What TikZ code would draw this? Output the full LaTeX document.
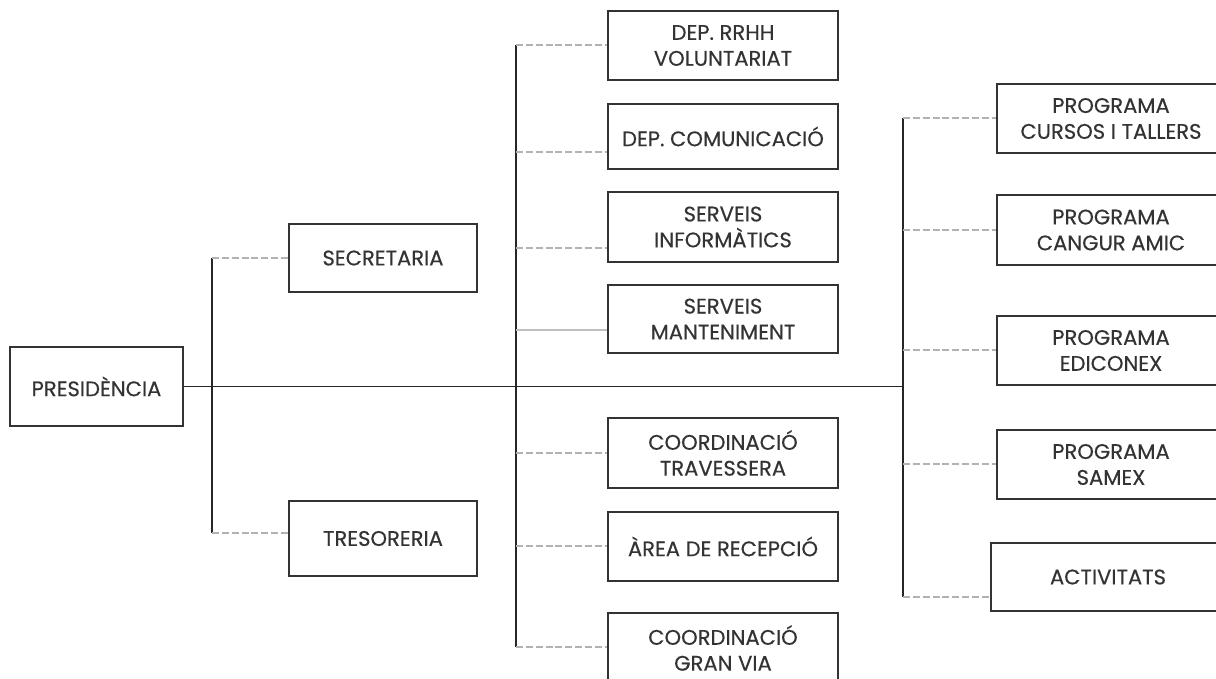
\documentclass[tikz,border=0pt]{standalone}
\usepackage{fontspec}
\setmainfont{Poppins}
\newfontfamily\unitfont{Poppins}[FakeBold=0.35]
\usetikzlibrary{calc}

\tikzset{
  unit/.style={draw=black!80, line width=1.1pt, align=center, inner sep=2pt,
    font=\unitfont\fontsize{15}{18.4}\selectfont, text=black!80},
  trunk/.style={draw=black!85, line width=1.4pt},
  dashlink/.style={draw=black!30, line width=1pt, dash pattern=on 5pt off 2pt},
  solidlink/.style={draw=black!25, line width=1pt},
}

\begin{document}
\begin{tikzpicture}[x=0.025cm, y=-0.025cm]
   \clip (0,0) rectangle (1216,678);
   \fill[white] (0,0) rectangle (1216,678);
   % left part
   \node[unit, minimum width=173*0.025cm, minimum height=79*0.025cm] (pres) at (96.5,386.5) {PRESIDÈNCIA};
   \node[unit, minimum width=188*0.025cm, minimum height=68*0.025cm] (sec) at (383,258) {SECRETARIA};
   \node[unit, minimum width=188*0.025cm, minimum height=75*0.025cm] (tre) at (383,538.5) {TRESORERIA};
   % middle column
   \node[unit, minimum width=230*0.025cm, minimum height=69*0.025cm] (rrhh) at (723,45.5) {DEP. RRHH\\VOLUNTARIAT};
   \node[unit, minimum width=230*0.025cm, minimum height=65*0.025cm] (com) at (723,136.5) {DEP. COMUNICACIÓ};
   \node[unit, minimum width=230*0.025cm, minimum height=70*0.025cm] (inf) at (723,227) {SERVEIS\\INFORMÀTICS};
   \node[unit, minimum width=230*0.025cm, minimum height=68*0.025cm] (mant) at (723,319) {SERVEIS\\MANTENIMENT};
   \node[unit, minimum width=230*0.025cm, minimum height=70*0.025cm] (trav) at (723,453) {COORDINACIÓ\\TRAVESSERA};
   \node[unit, minimum width=230*0.025cm, minimum height=69*0.025cm] (rec) at (723,546.5) {ÀREA DE RECEPCIÓ};
   \node[unit, minimum width=230*0.025cm, minimum height=70*0.025cm] (gran) at (723,648) {COORDINACIÓ\\GRAN VIA};
   % right column
   \node[unit, minimum width=228*0.025cm, minimum height=69*0.025cm] (curs) at (1111,118.5) {PROGRAMA\\CURSOS I TALLERS};
   \node[unit, minimum width=228*0.025cm, minimum height=70*0.025cm] (cang) at (1111,230) {PROGRAMA\\CANGUR AMIC};
   \node[unit, minimum width=228*0.025cm, minimum height=69*0.025cm] (edic) at (1111,350.5) {PROGRAMA\\EDICONEX};
   \node[unit, minimum width=228*0.025cm, minimum height=69*0.025cm] (samx) at (1111,464.5) {PROGRAMA\\SAMEX};
   \node[unit, minimum width=234*0.025cm, minimum height=68*0.025cm] (activ) at (1108,577) {ACTIVITATS};

   % trunk points
   \coordinate (lsec) at (212,258);
   \coordinate (ltre) at (212,533);
   \coordinate (mtop) at (516,45);
   \coordinate (mcom) at (516,152);
   \coordinate (minf) at (516,248);
   \coordinate (mmant) at (516,330);
   \coordinate (mtrav) at (516,453);
   \coordinate (mrec) at (516,546);
   \coordinate (mbot) at (516,647);
   \coordinate (rtop) at (903,118);
   \coordinate (rcang) at (903,230);
   \coordinate (redic) at (903,350);
   \coordinate (rsamx) at (903,464);
   \coordinate (rbot) at (903,597);

   \draw[trunk] (pres.east) -- (pres.east -| rtop);
   \draw[trunk] (lsec) -- (ltre);
   \draw[trunk] (mtop) -- (mbot);
   \draw[trunk] (rtop) -- (rbot);

   \draw[dashlink] (lsec) -- (sec.west |- lsec);
   \draw[dashlink] (ltre) -- (tre.west |- ltre);
   \draw[dashlink] (mtop) -- (rrhh.west |- mtop);
   \draw[dashlink] (mcom) -- (com.west |- mcom);
   \draw[dashlink] (minf) -- (inf.west |- minf);
   \draw[solidlink] (mmant) -- (mant.west |- mmant);
   \draw[dashlink] (mtrav) -- (trav.west |- mtrav);
   \draw[dashlink] (mrec) -- (rec.west |- mrec);
   \draw[dashlink] (mbot) -- (gran.west |- mbot);
   \draw[dashlink] (rtop) -- (curs.west |- rtop);
   \draw[dashlink] (rcang) -- (cang.west |- rcang);
   \draw[dashlink] (redic) -- (edic.west |- redic);
   \draw[dashlink] (rsamx) -- (samx.west |- rsamx);
   \draw[dashlink] (rbot) -- (activ.west |- rbot);
\end{tikzpicture}
\end{document}
